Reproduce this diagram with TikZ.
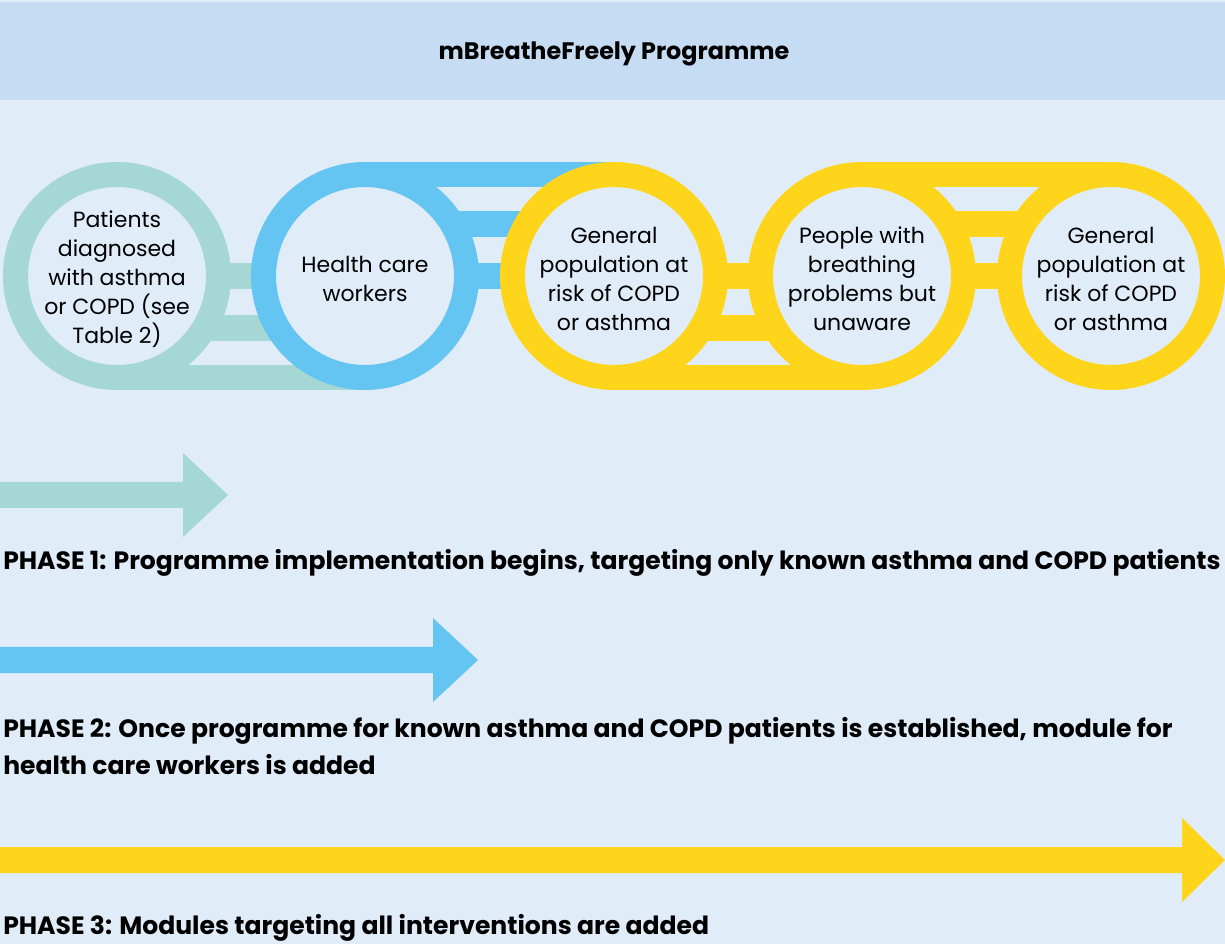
\documentclass[tikz,border=0pt]{standalone}
\usepackage{fontspec}
\setmainfont{Poppins}
\usepackage{xcolor}
\usepackage{tikz}

\definecolor{pagebg}{HTML}{E0ECF8}
\definecolor{headbg}{HTML}{C5DCF2}
\definecolor{ringteal}{HTML}{A5D8D4}
\definecolor{ringblue}{HTML}{64C5F2}
\definecolor{ringyellow}{HTML}{FED51A}

\tikzset{
  ring/.style={circle, draw=#1, fill=pagebg, line width=18.75pt,
    minimum size=152.25pt, inner sep=0pt},
  ringtext/.style={align=center, inner sep=0pt, yshift=-2.25pt,
    font=\fontsize{16.5}{21.75}\selectfont},
  phasetext/.style={anchor=west, align=left, inner sep=0pt,
    font=\bfseries\fontsize{18.8}{27.75}\selectfont}
}

\begin{document}
\begin{tikzpicture}[x=0.75pt, y=-0.75pt]
             % page and header
             \fill[pagebg] (0,0) rectangle (1225,944);
             \fill[headbg] (0,2) rectangle (1225,100);
             \node[font=\bfseries\fontsize{17.9}{20}\selectfont] (title) at (614,54) {mBreatheFreely Programme};

             % teal link
             \fill[ringteal] (117,263) rectangle (365,289);
             \fill[ringteal] (117,315) rectangle (365,341);
             \fill[ringteal] (117,365) rectangle (365,390);
             \node[ring=ringteal] (patients) at (117,276) {};
             \node[ringtext] (patientstext) at (patients) {Patients\\diagnosed\\with asthma\\or COPD (see\\Table 2)};

             % blue link
             \fill[ringblue] (365,162) rectangle (614,187);
             \fill[ringblue] (365,211) rectangle (614,237);
             \fill[ringblue] (365,263) rectangle (614,289);
             \node[ring=ringblue] (workers) at (365,276) {};
             \node[ringtext] (workerstext) at (workers) {Health care\\workers};

             % yellow links
             \fill[ringyellow] (614,263) rectangle (862,289);
             \fill[ringyellow] (614,315) rectangle (862,341);
             \fill[ringyellow] (614,365) rectangle (862,390);
             \node[ring=ringyellow] (riskA) at (614,276) {};
             \node[ringtext] (riskAtext) at (riskA) {General\\population at\\risk of COPD\\or asthma};

             \fill[ringyellow] (862,162) rectangle (1111,187);
             \fill[ringyellow] (862,211) rectangle (1111,237);
             \fill[ringyellow] (862,263) rectangle (1111,289);
             \node[ring=ringyellow] (unaware) at (862,276) {};
             \node[ringtext] (unawaretext) at (unaware) {People with\\breathing\\problems but\\unaware};

             \node[ring=ringyellow] (riskB) at (1111,276) {};
             \node[ringtext] (riskBtext) at (riskB) {General\\population at\\risk of COPD\\or asthma};

             % phase arrows
             \fill[ringteal] (0,482) -- (183,482) -- (183,453) -- (228,495) -- (183,537) -- (183,508) -- (0,508) -- cycle;
             \node[phasetext] (phaseA) at (3,563) {PHASE 1: Programme implementation begins, targeting only known asthma and COPD patients};

             \fill[ringblue] (0,647) -- (433,647) -- (433,618) -- (478,660) -- (433,702) -- (433,673) -- (0,673) -- cycle;
             \node[phasetext] (phaseB) at (3,746) {PHASE 2: Once programme for known asthma and COPD patients is established, module for\\health care workers is added};

             \fill[ringyellow] (0,847) -- (1182,847) -- (1182,818) -- (1225,860) -- (1182,902) -- (1182,873) -- (0,873) -- cycle;
             \node[phasetext] (phaseC) at (3,928) {PHASE 3: Modules targeting all interventions are added};
\end{tikzpicture}
\end{document}
